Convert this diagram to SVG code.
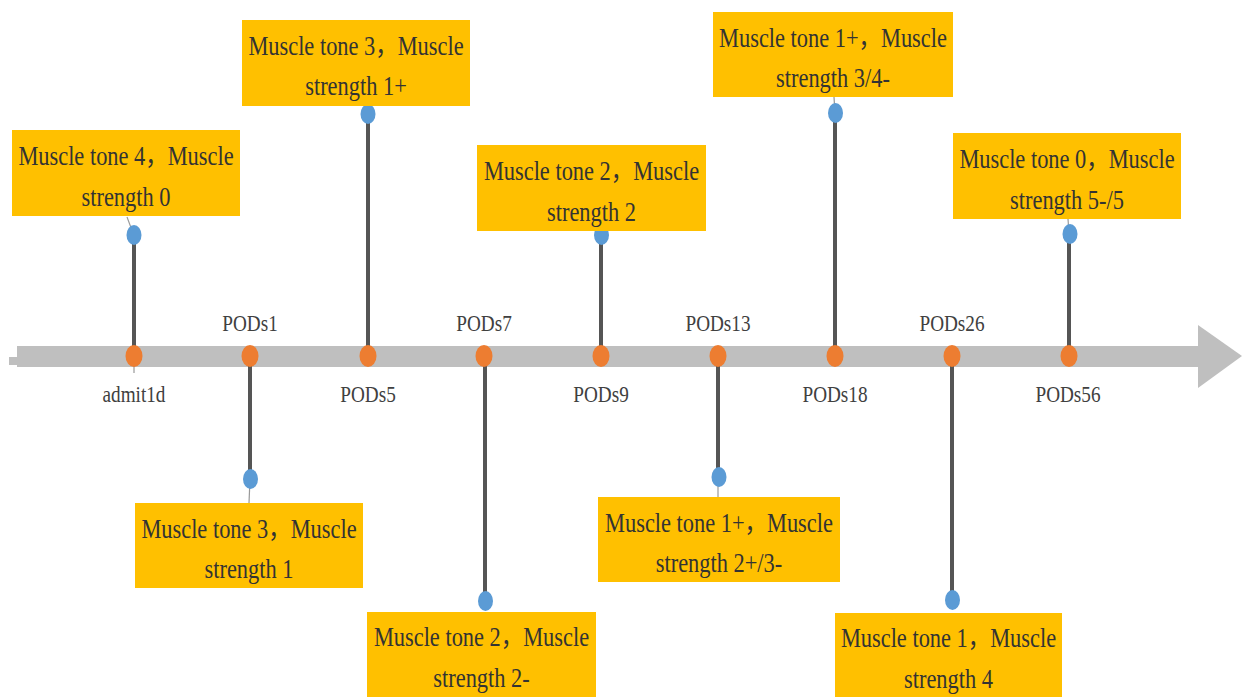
<svg xmlns="http://www.w3.org/2000/svg" width="1242" height="697" viewBox="0 0 1242 697">
<style>
.box{fill:#FFC000}
.t{font-family:'Liberation Serif','Times New Roman',serif;font-size:27px;fill:#333333;text-anchor:middle}
.lbl{font-family:'Liberation Serif','Times New Roman',serif;font-size:24px;fill:#404040;text-anchor:middle}
.cj{font-family:'Noto Sans CJK SC',sans-serif}
.stem{stroke:#555555;stroke-width:4}
.lead{stroke:#999999;stroke-width:1.2}
.od{fill:#ED7D31}
.bd{fill:#5B9BD5}
</style>
<rect width="1242" height="697" fill="#ffffff"/>
<g id="axis">
<rect x="9" y="357" width="10" height="8" fill="#BFBFBF"/>
<rect x="17" y="346" width="1183" height="21" fill="#BFBFBF"/>
<polygon points="1198,325 1242,356 1198,388" fill="#BFBFBF"/>
</g>
<g id="connectors">
<line class="stem" x1="134" y1="356" x2="134" y2="235"/>
<line class="stem" x1="250" y1="356" x2="250" y2="479"/>
<line class="stem" x1="368" y1="356" x2="368" y2="114"/>
<line class="stem" x1="485" y1="356" x2="485" y2="601"/>
<line class="stem" x1="601" y1="356" x2="601" y2="235"/>
<line class="stem" x1="718" y1="356" x2="718" y2="478"/>
<line class="stem" x1="835" y1="356" x2="835" y2="113"/>
<line class="stem" x1="952" y1="356" x2="952" y2="600"/>
<line class="stem" x1="1069" y1="356" x2="1069" y2="235"/>
<line class="lead" x1="127" y1="217" x2="133" y2="233"/>
<line class="lead" x1="134" y1="356" x2="134" y2="373"/>
<line class="lead" x1="250" y1="479" x2="249" y2="503"/>
<line class="lead" x1="718" y1="478" x2="718" y2="497"/>
<line class="lead" x1="835" y1="113" x2="834" y2="97"/>
<line class="lead" x1="1069" y1="234" x2="1068" y2="219"/>
</g>
<g id="dots">
<ellipse class="od" cx="134" cy="356" rx="8.5" ry="11"/>
<ellipse class="od" cx="250" cy="356" rx="8.5" ry="11"/>
<ellipse class="od" cx="368" cy="356" rx="8.5" ry="11"/>
<ellipse class="od" cx="484" cy="356" rx="8.5" ry="11"/>
<ellipse class="od" cx="601" cy="356" rx="8.5" ry="11"/>
<ellipse class="od" cx="718" cy="356" rx="8.5" ry="11"/>
<ellipse class="od" cx="835" cy="356" rx="8.5" ry="11"/>
<ellipse class="od" cx="952" cy="356" rx="8.5" ry="11"/>
<ellipse class="od" cx="1069" cy="356" rx="8.5" ry="11"/>
<ellipse class="bd" cx="134" cy="235" rx="7.5" ry="10"/>
<ellipse class="bd" cx="250.5" cy="479" rx="7.5" ry="10"/>
<ellipse class="bd" cx="368" cy="114" rx="7.5" ry="10"/>
<ellipse class="bd" cx="485.5" cy="601" rx="7.5" ry="10"/>
<ellipse class="bd" cx="601.5" cy="235" rx="7.5" ry="10"/>
<ellipse class="bd" cx="719" cy="477" rx="7.5" ry="10"/>
<ellipse class="bd" cx="835.5" cy="113" rx="7.5" ry="10"/>
<ellipse class="bd" cx="952.5" cy="600" rx="7.5" ry="10"/>
<ellipse class="bd" cx="1070" cy="234" rx="7.5" ry="10"/>
</g>
<g id="labels">
<text class="lbl" transform="translate(134,402) scale(0.8,1)">admit1d</text>
<text class="lbl" transform="translate(250,331) scale(0.8,1)">PODs1</text>
<text class="lbl" transform="translate(368,402) scale(0.8,1)">PODs5</text>
<text class="lbl" transform="translate(484,331) scale(0.8,1)">PODs7</text>
<text class="lbl" transform="translate(601,402) scale(0.8,1)">PODs9</text>
<text class="lbl" transform="translate(718,331) scale(0.8,1)">PODs13</text>
<text class="lbl" transform="translate(835,402) scale(0.8,1)">PODs18</text>
<text class="lbl" transform="translate(952,331) scale(0.8,1)">PODs26</text>
<text class="lbl" transform="translate(1068,402) scale(0.8,1)">PODs56</text>
</g>
<g id="n-admit1d">
<rect class="box" x="12" y="130" width="228" height="86"/>
<text class="t" transform="translate(126,165) scale(0.83,1)">Muscle tone 4<tspan class="cj">，</tspan>Muscle</text>
<text class="t" transform="translate(126,206) scale(0.83,1)">strength 0</text>
</g>
<g id="n-pods1">
<rect class="box" x="135" y="503" width="228" height="85"/>
<text class="t" transform="translate(249,538) scale(0.83,1)">Muscle tone 3<tspan class="cj">，</tspan>Muscle</text>
<text class="t" transform="translate(249,578) scale(0.83,1)">strength 1</text>
</g>
<g id="n-pods5">
<rect class="box" x="242" y="20" width="228" height="86"/>
<text class="t" transform="translate(356,55) scale(0.83,1)">Muscle tone 3<tspan class="cj">，</tspan>Muscle</text>
<text class="t" transform="translate(356,95) scale(0.83,1)">strength 1+</text>
</g>
<g id="n-pods7">
<rect class="box" x="367" y="612" width="229" height="90"/>
<text class="t" transform="translate(481.5,646) scale(0.83,1)">Muscle tone 2<tspan class="cj">，</tspan>Muscle</text>
<text class="t" transform="translate(481.5,687) scale(0.83,1)">strength 2-</text>
</g>
<g id="n-pods9">
<rect class="box" x="477" y="145" width="229" height="86"/>
<text class="t" transform="translate(591.5,180) scale(0.83,1)">Muscle tone 2<tspan class="cj">，</tspan>Muscle</text>
<text class="t" transform="translate(591.5,221) scale(0.83,1)">strength 2</text>
</g>
<g id="n-pods13">
<rect class="box" x="598" y="497" width="242" height="85"/>
<text class="t" transform="translate(719,532) scale(0.83,1)">Muscle tone 1+<tspan class="cj">，</tspan>Muscle</text>
<text class="t" transform="translate(719,572) scale(0.83,1)">strength 2+/3-</text>
</g>
<g id="n-pods18">
<rect class="box" x="713" y="12" width="240" height="85"/>
<text class="t" transform="translate(833,47) scale(0.83,1)">Muscle tone 1+<tspan class="cj">，</tspan>Muscle</text>
<text class="t" transform="translate(833,87) scale(0.83,1)">strength 3/4-</text>
</g>
<g id="n-pods26">
<rect class="box" x="835" y="613" width="227" height="90"/>
<text class="t" transform="translate(948.5,647) scale(0.83,1)">Muscle tone 1<tspan class="cj">，</tspan>Muscle</text>
<text class="t" transform="translate(948.5,688) scale(0.83,1)">strength 4</text>
</g>
<g id="n-pods56">
<rect class="box" x="953" y="133" width="228" height="86"/>
<text class="t" transform="translate(1067,168) scale(0.83,1)">Muscle tone 0<tspan class="cj">，</tspan>Muscle</text>
<text class="t" transform="translate(1067,209) scale(0.83,1)">strength 5-/5</text>
</g>
</svg>
